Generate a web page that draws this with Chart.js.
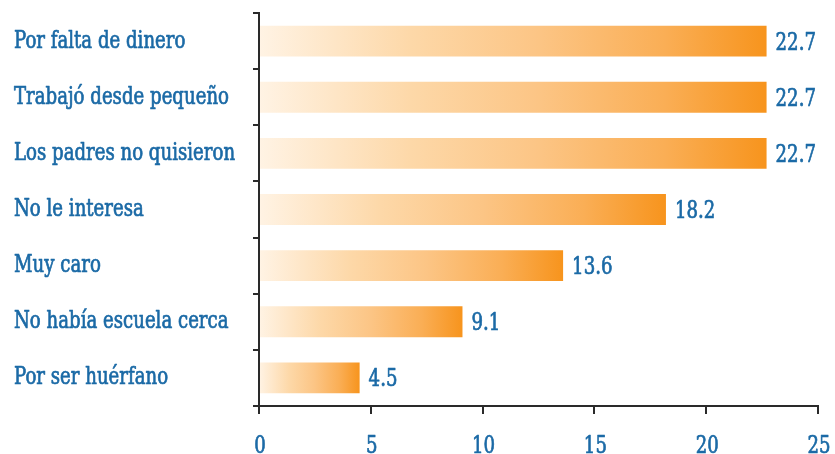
<!DOCTYPE html>
<html><head><meta charset="utf-8">
<script src="https://cdn.jsdelivr.net/npm/chart.js@4"></script>
<style>html,body{margin:0;padding:0;background:#fff;}#wrap{width:835px;height:454px;}</style>
</head><body><div id="wrap"><canvas id="c" width="835" height="454"></canvas></div>
<script>
const categories = ["Por falta de dinero","Trabajó desde pequeño","Los padres no quisieron","No le interesa","Muy caro","No había escuela cerca","Por ser huérfano"];
const values = [22.7, 22.7, 22.7, 18.2, 13.6, 9.1, 4.5];
const xTicks = [0, 5, 10, 15, 20, 25];

const BLUE = '#1b6aa6';
const FONT = "'DejaVu Serif Condensed', 'DejaVu Serif', serif";
const TEXT_FONT = "24px " + FONT;
const SX = 0.84;

function barGradient(ctx) {
  const chart = ctx.chart;
  const xs = chart.scales.x;
  if (!xs || ctx.dataIndex === undefined) return '#f7941d';
  const x0 = xs.getPixelForValue(0);
  const x1 = xs.getPixelForValue(values[ctx.dataIndex]);
  if (!isFinite(x0) || !isFinite(x1) || x1 === x0) return '#f7941d';
  const g = chart.ctx.createLinearGradient(x0, 0, x1, 0);
  g.addColorStop(0, '#fff3e4');
  g.addColorStop(0.3, '#fdd8a8');
  g.addColorStop(0.55, '#fcc585');
  g.addColorStop(0.8, '#faae55');
  g.addColorStop(1, '#f7941d');
  return g;
}

function drawText(c, text, x, y, align) {
  c.save();
  c.font = TEXT_FONT;
  c.fillStyle = BLUE;
  c.strokeStyle = BLUE;
  c.lineWidth = 0.7;
  c.lineJoin = 'round';
  c.textBaseline = 'alphabetic';
  const w = c.measureText(text).width * SX;
  let left = x;
  if (align === 'center') left = x - w / 2;
  else if (align === 'right') left = x - w;
  c.translate(left, y);
  c.scale(SX, 1);
  c.textAlign = 'left';
  c.fillText(text, 0, 0);
  c.strokeText(text, 0, 0);
  c.restore();
}

const textPlugin = {
  id: 'textPlugin',
  afterDraw(chart) {
    const c = chart.ctx;
    const xs = chart.scales.x, ys = chart.scales.y;
    const meta = chart.getDatasetMeta(0);
    categories.forEach((lab, i) => {
      const y = ys.getPixelForTick(i);
      drawText(c, lab, 14, y + 6.5, 'left');
    });
    meta.data.forEach((bar, i) => {
      drawText(c, values[i].toFixed(1), bar.x + 9, bar.y + 8.5, 'left');
    });
    xTicks.forEach(v => {
      drawText(c, String(v), xs.getPixelForValue(v) + 1, 453, 'center');
    });
  }
};

new Chart(document.getElementById('c'), {
  type: 'bar',
  data: {
    labels: categories,
    datasets: [{
      data: values,
      backgroundColor: barGradient,
      borderWidth: 0,
      barPercentage: 0.55,
      categoryPercentage: 1.0
    }]
  },
  options: {
    indexAxis: 'y',
    responsive: false,
    animation: false,
    layout: { padding: { left: 14, right: 17, top: 13, bottom: 0 } },
    plugins: { legend: { display: false }, tooltip: { enabled: false } },
    scales: {
      x: {
        min: 0, max: 25,
        afterBuildTicks(scale) { scale.ticks = xTicks.map(v => ({ value: v })); },
        afterFit(scale) { scale.height = 48; },
        border: { display: true, color: '#2a2a2a', width: 2 },
        grid: { drawOnChartArea: false, drawTicks: true, tickLength: 8, color: '#2a2a2a', lineWidth: 2 },
        ticks: { display: false }
      },
      y: {
        afterFit(scale) { scale.width = 259 - 14; },
        border: { display: true, color: '#2a2a2a', width: 2 },
        grid: { offset: true, drawOnChartArea: false, drawTicks: true, tickLength: 6, color: '#2a2a2a', lineWidth: 2 },
        ticks: { display: false }
      }
    }
  },
  plugins: [textPlugin]
});
</script>
</body></html>
